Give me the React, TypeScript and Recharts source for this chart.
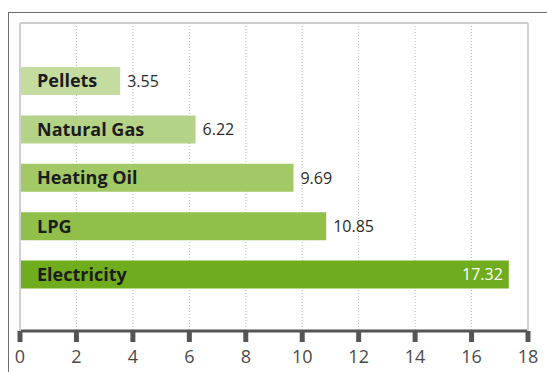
import {
  BarChart,
  Bar,
  Cell,
  CartesianGrid,
  XAxis,
  YAxis,
  LabelList,
} from 'recharts';

const fuels = ['Pellets', 'Natural Gas', 'Heating Oil', 'LPG', 'Electricity'];
const costs = [3.55, 6.22, 9.69, 10.85, 17.32];
const xTicks = [0, 2, 4, 6, 8, 10, 12, 14, 16, 18];

const palette = ['#c5dca1', '#b5d387', '#a2c966', '#90c049', '#6fad1f'];

const data = fuels.map((name, i) => ({ name, cost: costs[i] }));
const maxCost = Math.max(...costs);

// light frame round the plot area, drawn with bare axis lines
const frameLine = { stroke: '#cfcfcf', strokeWidth: 2 };

// value label: outside the bar, except for the longest one (white, inside)
const ValueLabel = (props: any) => {
  const { x, y, width, height, value } = props;
  const inside = value === maxCost;
  return (
    <text
      x={inside ? x + width - 6 : x + width + 7}
      y={y + height / 2}
      dy="0.36em"
      textAnchor={inside ? 'end' : 'start'}
      fill={inside ? '#ffffff' : '#2b2b2b'}
      fontSize={16}
      fontFamily="'Open Sans', sans-serif"
    >
      {value.toFixed(2)}
    </text>
  );
};

export default function App() {
  return (
    <div
      style={{
        position: 'absolute',
        left: 0,
        top: 0,
        width: 547,
        height: 372,
        background: '#fff',
      }}
    >
      {/* outer frame: top and left rules */}
      <div
        style={{
          position: 'absolute',
          left: 8,
          top: 12,
          right: 0,
          bottom: 0,
          borderTop: '1.5px solid #6e6e6e',
          borderLeft: '1.5px solid #6e6e6e',
        }}
      />
      <BarChart
        width={547}
        height={372}
        data={data}
        layout="vertical"
        margin={{ top: 22, right: 18, left: 19, bottom: 0 }}
        style={{ position: 'absolute', left: 0, top: 0 }}
      >
        <CartesianGrid
          horizontal={false}
          stroke="#b8b8b8"
          strokeDasharray="1 2"
        />
        <XAxis
          type="number"
          domain={[0, 18]}
          ticks={xTicks}
          interval={0}
          height={41}
          axisLine={{ stroke: '#555', strokeWidth: 3 }}
          tickLine={{ stroke: '#555', strokeWidth: 5 }}
          tickSize={11}
          tickMargin={8}
          tick={{
            fill: '#4a4a4a',
            fontSize: 18,
            fontFamily: "'Open Sans', sans-serif",
          }}
        />
        <XAxis
          xAxisId="top"
          orientation="top"
          type="number"
          domain={[0, 18]}
          height={1}
          tick={false}
          tickLine={false}
          axisLine={frameLine}
        />
        <YAxis
          type="category"
          dataKey="name"
          width={1}
          tick={false}
          tickLine={false}
          axisLine={frameLine}
          padding={{ top: 34, bottom: 32 }}
        />
        <YAxis
          yAxisId="right"
          orientation="right"
          type="category"
          dataKey="name"
          width={1}
          tick={false}
          tickLine={false}
          axisLine={frameLine}
          padding={{ top: 34, bottom: 32 }}
        />
        <Bar dataKey="cost" barSize={28} isAnimationActive={false}>
          {data.map((d, i) => (
            <Cell key={d.name} fill={palette[i]} />
          ))}
          <LabelList
            dataKey="name"
            position="insideLeft"
            offset={17}
            fill="#1c1c1c"
            fontSize={18}
            fontWeight={700}
            fontFamily="'Open Sans', sans-serif"
          />
          <LabelList dataKey="cost" content={ValueLabel} />
        </Bar>
      </BarChart>
    </div>
  );
}
